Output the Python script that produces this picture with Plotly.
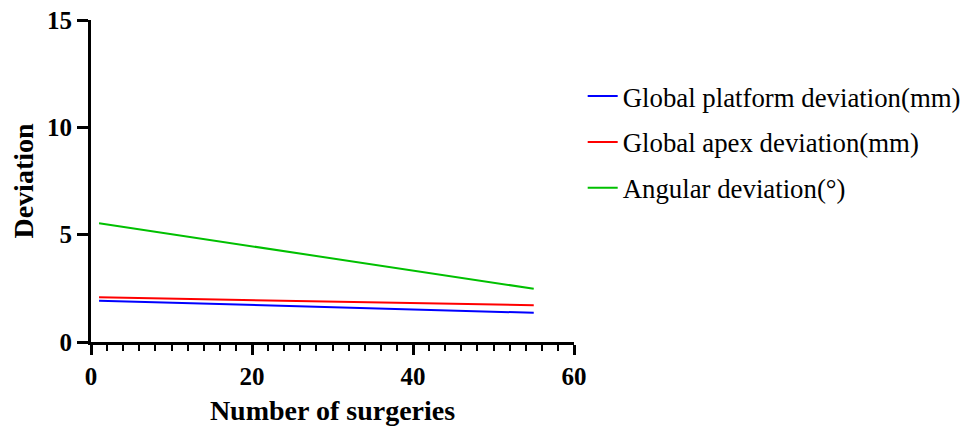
import plotly.graph_objects as go

surgeries = [1, 55]
platform_dev = [1.92, 1.36]
apex_dev = [2.08, 1.71]
angular_dev = [5.53, 2.48]

names = ["Global platform deviation(mm)", "Global apex deviation(mm)", "Angular deviation(°)"]
colors = ["#0000ff", "#ff0000", "#00c000"]
series = [platform_dev, apex_dev, angular_dev]

fig = go.Figure()
for i, (n, c, s) in enumerate(zip(names, colors, series)):
    fig.add_trace(go.Scatter(x=surgeries, y=s, mode="lines", name=n,
                             line=dict(color=c, width=2), legendgroup=str(i)))

font = "Liberation Serif, Times New Roman, serif"
fig.update_layout(
    width=971, height=427,
    margin=dict(l=83, r=405, t=12, b=93, autoexpand=False),
    plot_bgcolor="white", paper_bgcolor="white",
    font=dict(family=font, color="black"),
    showlegend=True,
    legend=dict(x=1.018, y=0.838, xanchor="left", yanchor="top",
                font=dict(family=font, size=26.8, color="black"),
                tracegroupgap=8, bgcolor="rgba(0,0,0,0)"),
    xaxis=dict(range=[0, 60], tickvals=[0, 20, 40, 60], showgrid=False, zeroline=False,
               showline=True, linecolor="black", linewidth=3,
               ticks="outside", ticklen=10, tickwidth=3, tickcolor="black",
               ticklabeloverflow="allow",
               tickfont=dict(family=font, size=25, color="black", weight="bold"),
               minor=dict(dtick=2, ticks="outside", ticklen=6, tickwidth=2, tickcolor="black"),
               title=dict(text="<b>Number of surgeries</b>", font=dict(family=font, size=28, color="black"), standoff=12)),
    yaxis=dict(range=[0, 15], tickvals=[0, 5, 10, 15], showgrid=False, zeroline=False,
               showline=True, linecolor="black", linewidth=3,
               ticks="outside", ticklen=11, tickwidth=3, tickcolor="black",
               ticklabeloverflow="allow",
               tickfont=dict(family=font, size=25, color="black", weight="bold"),
               title=dict(text="<b>Deviation</b>", font=dict(family=font, size=28, color="black"), standoff=12)),
)

fig.write_html("out.html")
